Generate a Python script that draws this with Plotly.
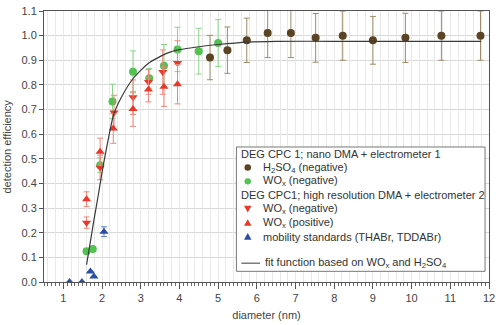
import plotly.graph_objects as go

# ---- data ----
h2so4_x = [4.79, 5.24, 5.74, 6.28, 6.88, 7.52, 8.22, 9.0, 9.84, 10.77, 11.78]
h2so4_y = [0.911, 0.941, 0.981, 1.011, 1.011, 0.991, 1.0, 0.981, 0.991, 1.0, 1.0]
h2so4_e = [0.09, 0.094, 0.09, 0.1, 0.1, 0.099, 0.1, 0.097, 0.1, 0.1, 0.1]

wox1_x = [1.6, 1.76, 1.95, 2.27, 2.8, 3.22, 3.6, 3.95, 4.5, 5.0]
wox1_y = [0.125, 0.134, 0.474, 0.733, 0.853, 0.827, 0.878, 0.944, 0.937, 0.970]
wox1_e = [0.01, 0.01, 0.03, 0.07, 0.085, 0.04, 0.086, 0.09, 0.093, 0.095]

woxneg_x = [1.6, 1.95, 2.31, 2.8, 3.2, 3.57, 3.95]
woxneg_y = [0.241, 0.465, 0.688, 0.750, 0.812, 0.852, 0.889]
woxneg_e = [0.023, 0.05, 0.07, 0.07, 0.05, 0.09, 0.09]

woxpos_x = [1.6, 1.95, 2.29, 2.8, 3.2, 3.6, 3.95]
woxpos_y = [0.336, 0.529, 0.623, 0.702, 0.781, 0.793, 0.803]
woxpos_e = [0.03, 0.055, 0.06, 0.07, 0.05, 0.08, 0.08]

mob_x = [1.16, 1.48, 1.70, 1.79, 2.05]
mob_y = [0.0, 0.0, 0.043, 0.022, 0.204]
mob_e = [0.0, 0.0, 0.0, 0.0, 0.02]

fit_x = [1.6, 1.7, 1.8, 1.9, 2.0, 2.1, 2.2, 2.3, 2.5, 2.8, 3.2, 3.7, 4.0, 4.5, 5.0, 5.75, 6.5, 8.0, 11.8]
fit_y = [0.07, 0.165, 0.26, 0.35, 0.445, 0.53, 0.61, 0.68, 0.75, 0.825, 0.888, 0.93, 0.943, 0.955,
         0.964, 0.974, 0.977, 0.977, 0.977]

x_ticks = list(range(1, 13))
y_ticks = [round(0.1 * i, 1) for i in range(12)]

legend_titles = ["DEG CPC 1; nano DMA + electrometer 1",
                 "DEG CPC1; high resolution DMA + electrometer 2"]
legend_items = ["H<sub>2</sub>SO<sub>4</sub> (negative)", "WO<sub>x</sub> (negative)",
                "WO<sub>x</sub> (negative)", "WO<sub>x</sub> (positive)",
                "mobility standards (THABr, TDDABr)"]
fit_label = "fit function based on WO<sub>x</sub> and H<sub>2</sub>SO<sub>4</sub>"

FONT = "Liberation Sans, Arial, sans-serif"
BROWN = "#5a4424"
BROWN_E = "#9e8c68"
GREEN = "#52c252"
GREEN_E = "#8ad68a"
RED = "#e8382a"
RED_E = "#f0857a"
BLUE = "#2a4ea2"
BLUE_E = "#5f7cc0"
TXT = "#333333"

# figure geometry (pixels)
W, H = 500, 325
ML, MR, MT, MB = 44, 5, 6, 40
PW = W - ML - MR
PH = H - MT - MB


def px(xp):
    return (xp - ML) / PW


def py(yp):
    return (H - MB - yp) / PH


fig = go.Figure()


def err(arr, color):
    return dict(type="data", array=arr, visible=True, color=color, thickness=1, width=3)


fig.add_trace(go.Scatter(x=h2so4_x, y=h2so4_y, mode="markers",
                         marker=dict(color=BROWN, size=8, symbol="circle"), error_y=err(h2so4_e, BROWN_E)))
fig.add_trace(go.Scatter(x=wox1_x, y=wox1_y, mode="markers",
                         marker=dict(color=GREEN, size=8, symbol="circle"), error_y=err(wox1_e, GREEN_E)))
fig.add_trace(go.Scatter(x=woxneg_x, y=woxneg_y, mode="markers",
                         marker=dict(color=RED, size=8, symbol="triangle-down"), error_y=err(woxneg_e, RED_E)))
fig.add_trace(go.Scatter(x=woxpos_x, y=woxpos_y, mode="markers",
                         marker=dict(color=RED, size=8, symbol="triangle-up"), error_y=err(woxpos_e, RED_E)))
fig.add_trace(go.Scatter(x=mob_x, y=mob_y, mode="markers",
                         marker=dict(color=BLUE, size=8, symbol="triangle-up"), error_y=err(mob_e, BLUE_E)))
fig.add_trace(go.Scatter(x=fit_x, y=fit_y, mode="lines",
                         line=dict(color="#3a3a3a", width=1.2, shape="spline", smoothing=0.6)))
# helper trace for the overlay axis carrying the fine vertical grid
fig.add_trace(go.Scatter(x=[None], y=[None], xaxis="x2", hoverinfo="skip"))

# ---- hand-built legend (box, symbols, labels) ----
shapes = []
annotations = []
LX0, LY0, LX1, LY1 = 239, 146, 491, 274
shapes.append(dict(type="rect", xref="paper", yref="paper", x0=px(LX0), x1=px(LX1), y0=py(LY1), y1=py(LY0),
                    fillcolor="white", line=dict(color="#777", width=1), layer="above"))
ROW0, DY = 153, 14.2
rows = [ROW0 + i * DY for i in range(9)]
title_rows = [rows[0], rows[3]]
item_rows = [rows[1], rows[2], rows[4], rows[5], rows[6]]
sym_x = 250.5
text_x = 264
for t, r in zip(legend_titles, title_rows):
    annotations.append(dict(text=t, xref="paper", yref="paper", x=px(242), y=py(r), xanchor="left",
                            yanchor="middle", showarrow=False, font=dict(family=FONT, size=11, color=TXT)))
for t, r in zip(legend_items, item_rows):
    annotations.append(dict(text=t, xref="paper", yref="paper", x=px(text_x), y=py(r), xanchor="left",
                            yanchor="middle", showarrow=False, font=dict(family=FONT, size=11, color=TXT)))
sym_specs = [("circle", BROWN), ("circle", GREEN), ("down", RED), ("up", RED), ("up", BLUE)]
for (kind, col), r in zip(sym_specs, item_rows):
    if kind == "circle":
        shapes.append(dict(type="circle", xref="paper", yref="paper", x0=px(sym_x - 3.3), x1=px(sym_x + 3.3),
                           y0=py(r + 3.3), y1=py(r - 3.3), fillcolor=col, line=dict(width=0), layer="above"))
    else:
        s = 1 if kind == "up" else -1
        p = "M {:.5f},{:.5f} L {:.5f},{:.5f} L {:.5f},{:.5f} Z".format(
            px(sym_x - 3.8), py(r + 3.2 * s), px(sym_x + 3.8), py(r + 3.2 * s), px(sym_x), py(r - 3.6 * s))
        shapes.append(dict(type="path", xref="paper", yref="paper", path=p, fillcolor=col,
                           line=dict(width=0), layer="above"))
fit_row = rows[8] - 1
shapes.append(dict(type="line", xref="paper", yref="paper", x0=px(244), x1=px(263), y0=py(fit_row), y1=py(fit_row),
                   line=dict(color="#3a3a3a", width=1), layer="above"))
annotations.append(dict(text=fit_label, xref="paper", yref="paper", x=px(266), y=py(fit_row), xanchor="left",
                        yanchor="middle", showarrow=False, font=dict(family=FONT, size=11, color=TXT)))

annotations.append(dict(text="detection efficiency", xref="paper", yref="paper", x=px(6.5), y=0.5,
                        xanchor="center", yanchor="middle", textangle=-90, showarrow=False,
                        font=dict(family=FONT, size=11, color="#444")))

fig.update_layout(
    width=W, height=H,
    margin=dict(l=ML, r=MR, t=MT, b=MB),
    paper_bgcolor="white", plot_bgcolor="white",
    font=dict(family=FONT, size=11, color="#444"),
    showlegend=False,
    xaxis=dict(range=[0.5, 12], tickvals=x_ticks, ticks="outside", ticklen=6, tickcolor="#555",
               showline=True, linecolor="#555", linewidth=1, mirror=True,
               showgrid=True, gridcolor="#d8d8d8", gridwidth=1, zeroline=False,
               minor=dict(dtick=0.1, tick0=0, ticks="outside", ticklen=3, tickcolor="#666", showgrid=False),
               tickfont=dict(size=11, color="#444"), ticklabeloverflow="allow",
               title=dict(text="diameter (nm)", font=dict(size=11, color="#444"), standoff=8)),
    xaxis2=dict(range=[0.5, 12], overlaying="x", anchor="y", side="bottom",
                showticklabels=False, ticks="", showline=False, zeroline=False,
                showgrid=True, dtick=0.2, tick0=0, gridcolor="#e8e8e8", gridwidth=1),
    yaxis=dict(range=[0, 1.1], tickvals=y_ticks, tickformat=".1f", ticks="outside", ticklen=4,
               tickcolor="#555", showline=True, linecolor="#555", linewidth=1, mirror=True,
               showgrid=True, gridcolor="#d8d8d8", zeroline=False,
               tickfont=dict(size=11, color="#444"), ticklabeloverflow="allow"),
    shapes=shapes,
    annotations=annotations,
)

fig.write_html("out.html")
